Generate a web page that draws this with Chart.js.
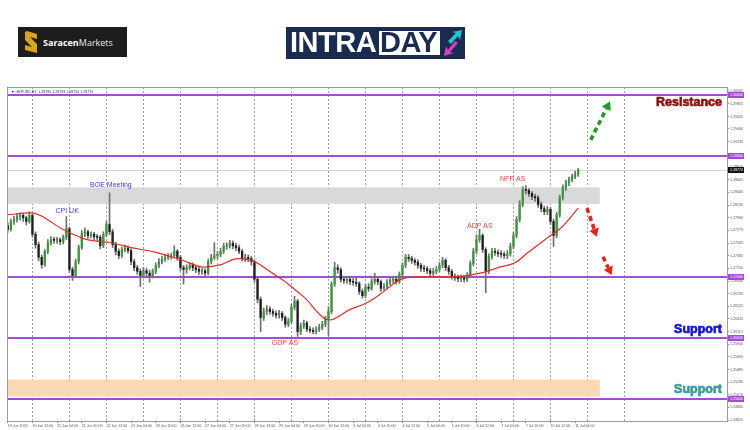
<!DOCTYPE html>
<html>
<head>
<meta charset="utf-8">
<script src="https://cdn.jsdelivr.net/npm/chart.js@4.4.1/dist/chart.umd.min.js"></script>
<style>
  html, body { margin: 0; padding: 0; background: #fff; }
  #wrap { position: relative; width: 750px; height: 430px; overflow: hidden; }
  #chart { position: absolute; left: 0; top: 0; }
  #saracen { position: absolute; left: 18px; top: 27px; width: 109px; height: 30px; background: #1d1d1d; }
  #saracen .txt { position: absolute; left: 25px; top: 9px; font: 9px 'Open Sans', 'Liberation Sans', sans-serif; color: #e8e8e8; white-space: nowrap; }
  #saracen .txt b { font-weight: 700; color: #fff; }
  #intraday { position: absolute; left: 286px; top: 27px; width: 179px; height: 32px; background: #1b2b4f; }
  #intraday .intra { position: absolute; left: 4px; top: 1px; font: bold 29px/29px 'Liberation Sans', Arial, sans-serif; color: #fff; letter-spacing: -0.5px; }
  #intraday .daybox { position: absolute; left: 93px; top: 4px; width: 61px; height: 24px; background: #fff; overflow: hidden; }
  #intraday .day { position: absolute; left: 1px; top: -3px; font: bold 29px/29px 'Liberation Sans', Arial, sans-serif; color: #1b2b4f; letter-spacing: -0.5px; }
</style>
</head>
<body>
<div id="wrap">
  <canvas id="chart" width="750" height="430"></canvas>
  <div id="saracen">
    <svg width="14" height="22" style="position:absolute;left:6px;top:4px" viewBox="0 0 14 22">
      <polygon points="3,0 13,3 13,8 6,6 13,13 13,22 1,19 1,14 8,16 1,9 1,1" fill="#d9a521"/>
    </svg>
    <div class="txt"><b>Saracen</b>Markets</div>
  </div>
  <div id="intraday">
    <div class="intra">INTRA</div>
    <div class="daybox"><div class="day">DAY</div></div>
    <svg width="22" height="28" style="position:absolute;left:156px;top:2px" viewBox="0 0 22 28">
      <polygon points="6,12 14,4 10,3 20,1 18,11 16,7 9,15" fill="#23c6cc"/>
      <polygon points="16,14 8,23 12,24 2,27 4,17 6,21 13,12" fill="#e03cc4"/>
    </svg>
  </div>
</div>
<script>
// --- Datos: GBPUSD, velas de 2 horas desde 19 Jun 2023 20:00 ---
const horasPorVela = 2;

const aperturas = [
  1.2785,1.2779,1.2792,1.2795,1.2800,1.2802,1.2798,1.2792,1.2802,1.2771,
  1.2754,1.2733,1.2721,1.2743,1.2757,1.2762,1.2761,1.2762,1.2759,1.2766,
  1.2780,1.2713,1.2703,1.2726,1.2749,1.2772,1.2775,1.2769,1.2771,1.2767,
  1.2766,1.2752,1.2771,1.2787,1.2775,1.2754,1.2743,1.2736,1.2746,1.2748,
  1.2744,1.2726,1.2716,1.2710,1.2703,1.2711,1.2707,1.2703,1.2710,1.2720,
  1.2726,1.2730,1.2733,1.2734,1.2736,1.2743,1.2733,1.2716,1.2713,1.2716,
  1.2720,1.2716,1.2713,1.2710,1.2711,1.2707,1.2726,1.2733,1.2736,1.2738,
  1.2743,1.2751,1.2752,1.2756,1.2752,1.2749,1.2743,1.2731,1.2733,1.2731,
  1.2726,1.2697,1.2664,1.2634,1.2644,1.2648,1.2644,1.2641,1.2638,1.2641,
  1.2634,1.2623,1.2628,1.2651,1.2661,1.2611,1.2620,1.2625,1.2615,1.2613,
  1.2611,1.2615,1.2618,1.2623,1.2631,1.2644,1.2689,1.2716,1.2713,1.2697,
  1.2695,1.2697,1.2693,1.2692,1.2690,1.2677,1.2670,1.2684,1.2682,1.2693,
  1.2697,1.2693,1.2682,1.2685,1.2692,1.2695,1.2697,1.2693,1.2705,1.2720,
  1.2733,1.2731,1.2728,1.2725,1.2720,1.2715,1.2714,1.2711,1.2707,1.2710,
  1.2713,1.2720,1.2728,1.2716,1.2710,1.2702,1.2700,1.2698,1.2699,1.2697,
  1.2703,1.2723,1.2743,1.2762,1.2769,1.2746,1.2710,1.2734,1.2743,1.2741,
  1.2739,1.2738,1.2736,1.2739,1.2751,1.2769,1.2795,1.2820,1.2844,1.2843,
  1.2838,1.2833,1.2831,1.2820,1.2813,1.2808,1.2812,1.2792,1.2769,1.2803,
  1.2831,1.2848,1.2856,1.2861,1.2866,1.2870
];
const cierres = [
  1.2779,1.2792,1.2795,1.2800,1.2802,1.2798,1.2792,1.2802,1.2771,1.2754,
  1.2733,1.2721,1.2743,1.2757,1.2762,1.2761,1.2762,1.2759,1.2766,1.2780,
  1.2713,1.2703,1.2726,1.2749,1.2772,1.2775,1.2769,1.2771,1.2767,1.2766,
  1.2752,1.2771,1.2787,1.2775,1.2754,1.2743,1.2736,1.2746,1.2748,1.2744,
  1.2726,1.2716,1.2710,1.2703,1.2711,1.2707,1.2703,1.2710,1.2720,1.2726,
  1.2730,1.2733,1.2734,1.2736,1.2743,1.2733,1.2716,1.2713,1.2716,1.2720,
  1.2716,1.2713,1.2710,1.2711,1.2707,1.2726,1.2733,1.2736,1.2738,1.2743,
  1.2751,1.2752,1.2756,1.2752,1.2749,1.2743,1.2731,1.2733,1.2731,1.2726,
  1.2697,1.2664,1.2634,1.2644,1.2648,1.2644,1.2641,1.2638,1.2641,1.2634,
  1.2623,1.2628,1.2651,1.2661,1.2611,1.2620,1.2625,1.2615,1.2613,1.2611,
  1.2615,1.2618,1.2623,1.2631,1.2644,1.2689,1.2716,1.2713,1.2697,1.2695,
  1.2697,1.2693,1.2692,1.2690,1.2677,1.2670,1.2684,1.2682,1.2693,1.2697,
  1.2693,1.2682,1.2685,1.2692,1.2695,1.2697,1.2693,1.2705,1.2720,1.2733,
  1.2731,1.2728,1.2725,1.2720,1.2715,1.2714,1.2711,1.2707,1.2710,1.2713,
  1.2720,1.2728,1.2716,1.2710,1.2702,1.2700,1.2698,1.2699,1.2697,1.2703,
  1.2723,1.2743,1.2762,1.2769,1.2746,1.2710,1.2734,1.2743,1.2741,1.2739,
  1.2738,1.2736,1.2739,1.2751,1.2769,1.2795,1.2820,1.2844,1.2843,1.2838,
  1.2833,1.2831,1.2820,1.2813,1.2808,1.2812,1.2792,1.2769,1.2803,1.2831,
  1.2848,1.2856,1.2861,1.2866,1.2870,1.2877
];
const maximos = [
  1.2790,1.2796,1.2801,1.2805,1.2806,1.2805,1.2801,1.2808,1.2804,1.2775,
  1.2758,1.2737,1.2746,1.2762,1.2767,1.2766,1.2766,1.2765,1.2770,1.2800,
  1.2783,1.2717,1.2730,1.2753,1.2777,1.2781,1.2778,1.2775,1.2774,1.2771,
  1.2769,1.2775,1.2792,1.2839,1.2779,1.2758,1.2747,1.2750,1.2753,1.2752,
  1.2747,1.2730,1.2720,1.2714,1.2716,1.2715,1.2712,1.2714,1.2724,1.2731,
  1.2735,1.2738,1.2739,1.2740,1.2752,1.2746,1.2736,1.2720,1.2721,1.2724,
  1.2724,1.2719,1.2717,1.2715,1.2714,1.2730,1.2738,1.2757,1.2743,1.2748,
  1.2756,1.2757,1.2761,1.2760,1.2756,1.2753,1.2746,1.2738,1.2737,1.2735,
  1.2729,1.2700,1.2668,1.2650,1.2654,1.2652,1.2648,1.2645,1.2646,1.2644,
  1.2637,1.2633,1.2656,1.2669,1.2664,1.2625,1.2630,1.2628,1.2619,1.2617,
  1.2619,1.2623,1.2628,1.2636,1.2652,1.2693,1.2725,1.2721,1.2716,1.2702,
  1.2702,1.2701,1.2698,1.2700,1.2693,1.2681,1.2688,1.2690,1.2698,1.2707,
  1.2701,1.2696,1.2690,1.2697,1.2700,1.2702,1.2701,1.2709,1.2724,1.2738,
  1.2738,1.2735,1.2731,1.2729,1.2723,1.2720,1.2718,1.2715,1.2715,1.2718,
  1.2725,1.2733,1.2731,1.2720,1.2713,1.2706,1.2704,1.2704,1.2703,1.2708,
  1.2727,1.2748,1.2770,1.2779,1.2772,1.2749,1.2739,1.2748,1.2748,1.2745,
  1.2744,1.2742,1.2744,1.2756,1.2774,1.2800,1.2826,1.2849,1.2851,1.2846,
  1.2841,1.2837,1.2834,1.2824,1.2817,1.2817,1.2815,1.2796,1.2807,1.2835,
  1.2852,1.2860,1.2865,1.2870,1.2875,1.2879
];
const minimos = [
  1.2774,1.2776,1.2787,1.2791,1.2794,1.2792,1.2786,1.2789,1.2766,1.2748,
  1.2727,1.2715,1.2718,1.2739,1.2753,1.2756,1.2756,1.2754,1.2755,1.2762,
  1.2708,1.2695,1.2700,1.2722,1.2746,1.2767,1.2764,1.2765,1.2762,1.2761,
  1.2747,1.2749,1.2767,1.2770,1.2749,1.2737,1.2731,1.2732,1.2742,1.2740,
  1.2721,1.2711,1.2705,1.2685,1.2699,1.2701,1.2692,1.2699,1.2706,1.2716,
  1.2722,1.2726,1.2729,1.2730,1.2732,1.2728,1.2711,1.2689,1.2707,1.2712,
  1.2711,1.2708,1.2705,1.2705,1.2702,1.2704,1.2722,1.2729,1.2731,1.2734,
  1.2739,1.2746,1.2748,1.2747,1.2744,1.2739,1.2727,1.2726,1.2726,1.2720,
  1.2692,1.2658,1.2611,1.2629,1.2639,1.2639,1.2636,1.2633,1.2633,1.2629,
  1.2618,1.2619,1.2625,1.2647,1.2603,1.2606,1.2616,1.2611,1.2609,1.2607,
  1.2607,1.2611,1.2614,1.2619,1.2605,1.2640,1.2685,1.2707,1.2692,1.2690,
  1.2690,1.2688,1.2687,1.2685,1.2672,1.2666,1.2667,1.2677,1.2679,1.2689,
  1.2688,1.2677,1.2679,1.2681,1.2688,1.2691,1.2689,1.2690,1.2701,1.2716,
  1.2726,1.2723,1.2720,1.2715,1.2710,1.2709,1.2706,1.2702,1.2703,1.2706,
  1.2709,1.2716,1.2711,1.2705,1.2697,1.2695,1.2693,1.2693,1.2692,1.2693,
  1.2700,1.2719,1.2739,1.2758,1.2741,1.2675,1.2706,1.2730,1.2736,1.2734,
  1.2733,1.2731,1.2731,1.2735,1.2747,1.2765,1.2791,1.2816,1.2837,1.2833,
  1.2828,1.2825,1.2815,1.2808,1.2803,1.2803,1.2787,1.2751,1.2765,1.2799,
  1.2827,1.2843,1.2851,1.2857,1.2862,1.2866
];

// Media móvil (roja): hora de trading -> precio
const mediaHoras = [0, 15, 36.5, 51.5, 67, 80, 95, 112.5, 127.5, 138.5, 149, 160, 171, 181, 192,
  208.7, 221.7, 232.7, 243, 254, 265, 286.7, 308, 319, 329, 337, 350, 359.5, 370];
const mediaValores = [1.2803, 1.2806, 1.2778, 1.2762, 1.2757, 1.2749, 1.2742, 1.2729, 1.2717, 1.2721, 1.2731,
  1.2726, 1.2708, 1.2691, 1.2668, 1.2630, 1.2647, 1.2658, 1.2675, 1.2696, 1.2701, 1.2701, 1.2708,
  1.2717, 1.2724, 1.2740, 1.2765, 1.2783, 1.2814];

// Eje X
const horasEtiquetas = [0, 16, 32, 48, 64, 80, 96, 112, 128, 144, 160, 176, 192, 208, 224, 240,
  256, 272, 288, 304, 320, 336, 352, 368];
const etiquetasX = ['19 Jun 2023', '20 Jun 12:00', '21 Jun 04:00', '21 Jun 20:00', '22 Jun 12:00',
  '23 Jun 04:00', '23 Jun 20:00', '26 Jun 12:00', '27 Jun 04:00', '27 Jun 20:00', '28 Jun 12:00',
  '29 Jun 04:00', '29 Jun 20:00', '30 Jun 12:00', '3 Jul 04:00', '3 Jul 20:00', '4 Jul 12:00',
  '5 Jul 04:00', '5 Jul 20:00', '6 Jul 12:00', '7 Jul 04:00', '7 Jul 20:00', '10 Jul 12:00', '11 Jul 04:00'];
const horasSeparadores = [4, 28, 52, 76, 100, 124, 148, 172, 196, 220, 244, 268, 292, 316, 340, 364, 388];

// Eje Y
const ticksY = [1.30065, 1.29855, 1.29645, 1.29440, 1.29230, 1.29020, 1.28815, 1.28605, 1.28400,
  1.28190, 1.27980, 1.27775, 1.27565, 1.27360, 1.27150, 1.26940, 1.26735, 1.26525, 1.26320,
  1.26110, 1.25900, 1.25695, 1.25485, 1.25280, 1.25070, 1.24865, 1.24655];

// Niveles y zonas
const niveles = [1.30, 1.29, 1.27, 1.26, 1.25];
const precioActual = 1.2877;
const zonaGris = [1.2821, 1.2848];
const zonaNaranja = [1.2504, 1.2532];
const finZonasHora = 384;

// Eventos (texto, hora, precio)
const eventos = [
  { texto: 'CPI UK', hora: 38.5, precio: 1.2809, color: '#3a44cc' },
  { texto: 'BOE Meeting', hora: 66.9, precio: 1.2852, color: '#3a44cc' },
  { texto: 'GDP AS', hora: 179.8, precio: 1.2592, color: '#e5453d' },
  { texto: 'ADP AS', hora: 306.2, precio: 1.2785, color: '#e5453d' },
  { texto: 'NFP AS', hora: 327.5, precio: 1.2861, color: '#e5453d' }
];
const rotulos = [
  { texto: 'Resistance', precio: 1.2987, color: '#8a1212' },
  { texto: 'Support', precio: 1.2614, color: '#1515d6' },
  { texto: 'Support', precio: 1.2515, color: '#3d9a9a' }
];
const flechas = [
  { desde: [378.1, 1.2926], hasta: [390.6, 1.2989], color: '#1f9a22' },
  { desde: [375.7, 1.2814], hasta: [382.0, 1.2767], color: '#e3241c' },
  { desde: [386.1, 1.2734], hasta: [391.7, 1.2704], color: '#e3241c' }
];

// --- Construcción de datasets ---
const horasVelas = cierres.map((_, i) => i * horasPorVela);
const mechas = horasVelas.map((h, i) => ({ x: h, y: [minimos[i], maximos[i]] }));
const cuerpos = horasVelas.map((h, i) => ({ x: h, y: [aperturas[i], cierres[i]] }));
const coloresCuerpo = cierres.map((c, i) => c >= aperturas[i] ? '#3b963d' : '#1e1e1e');
const media = mediaHoras.map((h, i) => ({ x: h, y: mediaValores[i] }));

const fuenteMini = { family: "'Liberation Sans', Arial, sans-serif", size: 3.6 };

function flechaDiscontinua(ctx, x1, y1, x2, y2, color) {
  const ang = Math.atan2(y2 - y1, x2 - x1);
  const cabeza = 8;
  const bx = x2 - Math.cos(ang) * cabeza, by = y2 - Math.sin(ang) * cabeza;
  ctx.save();
  ctx.strokeStyle = color;
  ctx.lineWidth = 3.6;
  ctx.setLineDash([5, 3.5]);
  ctx.beginPath();
  ctx.moveTo(x1, y1);
  ctx.lineTo(bx, by);
  ctx.stroke();
  ctx.setLineDash([]);
  ctx.fillStyle = color;
  const px = Math.cos(ang + Math.PI / 2) * 5, py = Math.sin(ang + Math.PI / 2) * 5;
  ctx.beginPath();
  ctx.moveTo(x2, y2);
  ctx.lineTo(bx + px, by + py);
  ctx.lineTo(bx - px, by - py);
  ctx.closePath();
  ctx.fill();
  ctx.restore();
}

const decoraciones = {
  id: 'decoraciones',
  beforeDatasetsDraw(chart) {
    const { ctx, chartArea: a, scales: { x, y } } = chart;
    ctx.save();
    const xFin = x.getPixelForValue(finZonasHora);
    // zonas
    [[zonaGris, '#d9d9d9'], [zonaNaranja, '#fdd8b4']].forEach(([z, col]) => {
      const y1 = y.getPixelForValue(z[1]), y2 = y.getPixelForValue(z[0]);
      ctx.fillStyle = col;
      ctx.fillRect(a.left, y1, xFin - a.left, y2 - y1);
    });
    // línea de precio actual
    const yp = Math.round(y.getPixelForValue(precioActual)) + 0.5;
    ctx.strokeStyle = '#d6d6d6';
    ctx.lineWidth = 1;
    ctx.beginPath(); ctx.moveTo(a.left, yp); ctx.lineTo(a.right, yp); ctx.stroke();
    // niveles
    niveles.forEach(v => {
      const yy = Math.round(y.getPixelForValue(v));
      ctx.strokeStyle = '#a24cd6';
      ctx.lineWidth = 2;
      ctx.beginPath(); ctx.moveTo(a.left, yy); ctx.lineTo(a.right, yy); ctx.stroke();
    });
    ctx.restore();
  },
  afterDatasetsDraw(chart) {
    const { ctx, chartArea: a, scales: { x, y } } = chart;
    ctx.save();
    // texto superior izquierdo
    ctx.fillStyle = '#333';
    ctx.font = "3.6px 'Liberation Sans', Arial, sans-serif";
    ctx.textBaseline = 'top';
    ctx.fillText('\u25BC GBPUSD,H1  1.28790 1.28793 1.28750 1.28770', a.left + 4, a.top + 3);
    // eventos
    ctx.font = "7px 'Liberation Sans', Arial, sans-serif";
    ctx.textAlign = 'center';
    ctx.textBaseline = 'middle';
    eventos.forEach(e => {
      ctx.fillStyle = e.color;
      ctx.fillText(e.texto, x.getPixelForValue(e.hora), y.getPixelForValue(e.precio));
    });
    // rótulos grandes
    ctx.font = "bold 12.5px 'Liberation Sans', Arial, sans-serif";
    ctx.textAlign = 'right';
    rotulos.forEach(r => {
      ctx.fillStyle = r.color;
      ctx.strokeStyle = r.color;
      ctx.lineWidth = 0.7;
      const yy = y.getPixelForValue(r.precio);
      ctx.fillText(r.texto, a.right - 5, yy);
      ctx.strokeText(r.texto, a.right - 5, yy);
    });
    // flechas
    flechas.forEach(f => flechaDiscontinua(ctx,
      x.getPixelForValue(f.desde[0]), y.getPixelForValue(f.desde[1]),
      x.getPixelForValue(f.hasta[0]), y.getPixelForValue(f.hasta[1]), f.color));
    ctx.restore();
  },
  afterDraw(chart) {
    const { ctx, chartArea: a, scales: { y } } = chart;
    ctx.save();
    ctx.strokeStyle = '#9a9a9a';
    ctx.lineWidth = 1;
    ctx.strokeRect(a.left + 0.5, a.top + 0.5, a.right - a.left, a.bottom - a.top);
    // cajas de precio en el eje
    ctx.font = "3.6px 'Liberation Sans', Arial, sans-serif";
    ctx.textBaseline = 'middle';
    ctx.textAlign = 'left';
    const caja = (v, fondo) => {
      const yy = Math.round(y.getPixelForValue(v));
      ctx.fillStyle = fondo;
      ctx.fillRect(a.right + 1, yy - 3, 16, 6);
      ctx.fillStyle = '#fff';
      ctx.fillText(v.toFixed(5), a.right + 3, yy);
    };
    niveles.forEach(v => caja(v, '#a24cd6'));
    caja(precioActual, '#111');
    ctx.restore();
  }
};

new Chart(document.getElementById('chart'), {
  type: 'bar',
  data: {
    datasets: [
      { type: 'line', data: media, borderColor: '#dd2f2a', borderWidth: 1.2, pointRadius: 0,
        cubicInterpolationMode: 'monotone', order: 0 },
      { data: cuerpos, backgroundColor: coloresCuerpo, barThickness: 1.6, minBarLength: 1, grouped: false, order: 1 },
      { data: mechas, backgroundColor: '#707070', barThickness: 1, grouped: false, order: 2 }
    ]
  },
  options: {
    responsive: false,
    animation: false,
    layout: { padding: { left: 7, top: 87, right: 0, bottom: 0 } },
    plugins: { legend: { display: false }, tooltip: { enabled: false } },
    scales: {
      x: {
        type: 'linear', min: -0.5, max: 466.5, offset: false,
        afterBuildTicks: s => { s.ticks = horasEtiquetas.map(v => ({ value: v })); },
        afterFit: s => { s.height = 9; },
        ticks: { autoSkip: false, maxRotation: 0, align: 'start', font: fuenteMini, color: '#555', padding: 1,
          callback: (v, i) => etiquetasX[i] },
        grid: { drawOnChartArea: false, offset: false, tickLength: 2, color: '#888' },
        border: { display: false }
      },
      xSep: {
        type: 'linear', position: 'bottom', min: -0.5, max: 466.5, offset: false,
        afterBuildTicks: s => { s.ticks = horasSeparadores.map(v => ({ value: v })); },
        afterFit: s => { s.height = 0; },
        ticks: { display: false },
        grid: { color: '#a0a0a0', lineWidth: 1, drawTicks: false },
        border: { display: false, dash: [2, 2] }
      },
      y: {
        position: 'right', min: 1.2464, max: 1.3013,
        afterBuildTicks: s => { s.ticks = ticksY.map(v => ({ value: v })); },
        afterFit: s => { s.width = 23; },
        ticks: { font: fuenteMini, color: '#555', padding: 1, callback: v => v.toFixed(5) },
        grid: { drawOnChartArea: false, tickLength: 2, color: '#888' },
        border: { display: false }
      }
    }
  },
  plugins: [decoraciones]
});
</script>
</body>
</html>
